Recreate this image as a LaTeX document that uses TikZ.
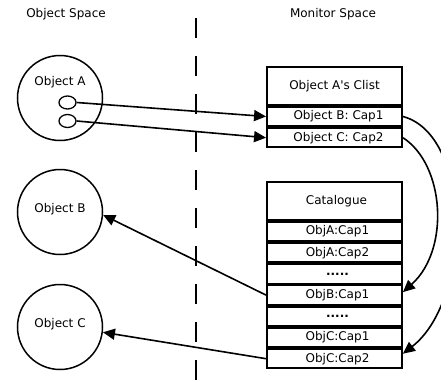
\documentclass[tikz,border=0pt]{standalone}
\usepackage{fontspec}
\setmainfont{DejaVu Sans}
\usetikzlibrary{arrows.meta,shapes.geometric}
\newcommand{\plainapos}{\XeTeXglyph\XeTeXglyphindex "quotesingle"\relax}
\begin{document}
\begin{tikzpicture}[x=1pt,y=-1pt,
  every node/.style={font=\fontsize{12}{14}\selectfont},
  obj/.style={circle,draw,line width=1.5pt,minimum size=85pt,inner sep=0pt},
  capref/.style={ellipse,draw,line width=1.3pt,minimum width=17pt,minimum height=13pt,inner sep=0pt},
  hdr/.style={draw,line width=1.9pt,minimum width=135pt,minimum height=38pt,inner sep=0pt,anchor=north},
  row/.style={draw,line width=1.9pt,minimum width=135pt,minimum height=19.3pt,inner sep=0pt,anchor=north},
  arr/.style={line width=1.6pt,-{Triangle[length=12pt,width=11pt]}},
  divider/.style={line width=1.7pt,dash pattern=on 20pt off 18pt}
]
\useasboundingbox (0,0) rectangle (441,385);
\clip (0,0) rectangle (441,385);

% headings
\node (os) at (66,14) {Object Space};
\node (ms) at (333,14) {Monitor Space};

% divider
\coordinate (dtop) at (196,18);
\coordinate (dbot) at (196,386);
\draw[divider] (dtop) -- (dbot);

% objects
\node[obj] (A) at (60,98) {};
\node (Alab) at (60,82) {Object A};
\node[capref] (e1) at (67.5,102.5) {};
\node[capref] (e2) at (67.5,121) {};
\node[obj] (B) at (60,212) {};
\node (Blab) at (60,209) {Object B};
\node[obj] (C) at (60,327) {};
\node (Clab) at (60,324) {Object C};

% clist
\node[hdr] (ch) at (334.5,66) {Object A\plainapos s Clist};
\node[row] (r1) at (ch.south) {\hspace{8pt}Object B: Cap1};
\node[row] (r2) at (r1.south) {\hspace{8pt}Object C: Cap2};

% catalogue
\node[hdr] (kh) at (334.5,181) {\hspace{4pt}Catalogue};
\node[row] (k1) at (kh.south) {\hspace{6pt}ObjA:Cap1};
\node[row] (k2) at (k1.south) {\hspace{6pt}ObjA:Cap2};
\node[row] (k3) at (k2.south) {\hspace{6pt}\textbf{.....}};
\node[row] (k4) at (k3.south) {\hspace{6pt}ObjB:Cap1};
\node[row] (k5) at (k4.south) {\hspace{6pt}\textbf{.....}};
\node[row] (k6) at (k5.south) {\hspace{6pt}ObjC:Cap1};
\node[row] (k7) at (k6.south) {\hspace{6pt}ObjC:Cap2};

% arrows
\draw[arr] (e1.east) -- (r1.west);
\draw[arr] (e2.east) -- (r2.west);
\draw[arr] (k4.west) -- (B.-4);
\draw[arr] (k7.west) -- (C.-7);
\draw[arr] (r2.east) .. controls (445,165) and (450,250) .. ([yshift=3pt]k4.east);
\draw[arr] (r1.east) .. controls (472,135) and (472,300) .. ([yshift=5pt]k7.east);
\end{tikzpicture}
\end{document}
